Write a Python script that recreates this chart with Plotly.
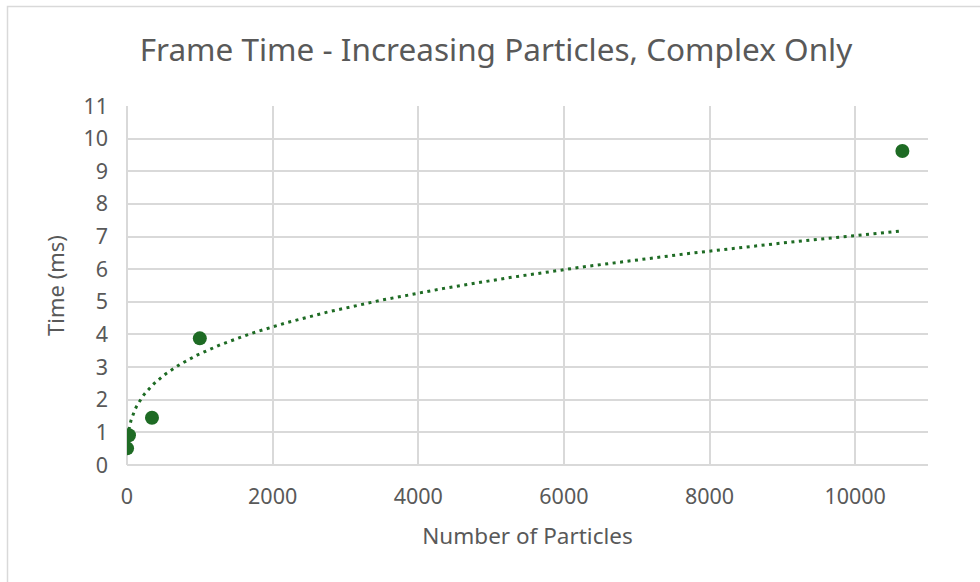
import numpy as np
import plotly.graph_objects as go

# Data
particles = [1, 27, 343, 1000, 10648]
frame_time_ms = [0.51, 0.91, 1.45, 3.88, 9.62]
x_ticks = [0, 2000, 4000, 6000, 8000, 10000]
y_ticks = list(range(0, 12))

TITLE = "Frame Time - Increasing Particles, Complex Only"
X_TITLE = "Number of Particles"
Y_TITLE = "Time (ms)"

GREEN = "#1E6B24"
TEXT = "#595959"
GRID = "#D9D9D9"
FONT = "Noto Sans"

# Power trendline (least squares in log-log space, as a spreadsheet does)
b, ln_a = np.polyfit(np.log(particles), np.log(frame_time_ms), 1)
a = np.exp(ln_a)
tx = np.linspace(min(particles), max(particles), 400)
ty = a * tx ** b

fig = go.Figure()
fig.add_trace(go.Scatter(
    x=tx, y=ty, mode="lines",
    line=dict(color=GREEN, width=3, dash="3px,4.5px"),
    hoverinfo="skip", showlegend=False,
))
fig.add_trace(go.Scatter(
    x=particles, y=frame_time_ms, mode="markers",
    marker=dict(color=GREEN, size=14, line=dict(width=0)),
    showlegend=False,
))

L, R, T, B = 127, 52, 106, 117
W, H = 980 - L - R, 582 - T - B

fig.update_layout(
    width=980, height=582,
    margin=dict(l=L, r=R, t=T, b=B),
    paper_bgcolor="white", plot_bgcolor="white",
    font=dict(family=FONT, color=TEXT, size=21),
    title=dict(text=TITLE, x=496 / 980, xref="container", xanchor="center",
               y=1 - 50 / 582, yref="container", yanchor="middle",
               font=dict(size=31.5, color=TEXT, family=FONT)),
    xaxis=dict(range=[0, 11000], tickvals=x_ticks, ticktext=[str(v) for v in x_ticks],
               showgrid=True, gridcolor=GRID, gridwidth=2,
               zeroline=True, zerolinecolor=GRID, zerolinewidth=2,
               showline=False, ticks="", ticklabelstandoff=16,
               tickfont=dict(size=21.5, color=TEXT),
               title=dict(text=X_TITLE, font=dict(size=22.5, color=TEXT), standoff=19)),
    yaxis=dict(range=[0, 11], tickvals=y_ticks, ticktext=[str(v) for v in y_ticks],
               showgrid=True, gridcolor=GRID, gridwidth=2,
               zeroline=True, zerolinecolor=GRID, zerolinewidth=2,
               showline=False, ticks="", ticklabelstandoff=18,
               tickfont=dict(size=21.5, color=TEXT),
               title=dict(text=Y_TITLE, font=dict(size=22, color=TEXT), standoff=12)),
    shapes=[dict(type="rect", xref="paper", yref="paper",
                 x0=(7.5 - L) / W, x1=1 + 200 / W,
                 y0=-300 / H, y1=1 + (T - 6.5) / H,
                 line=dict(color=GRID, width=1.5), fillcolor="rgba(0,0,0,0)",
                 layer="below")],
)

fig.write_html("out.html")
